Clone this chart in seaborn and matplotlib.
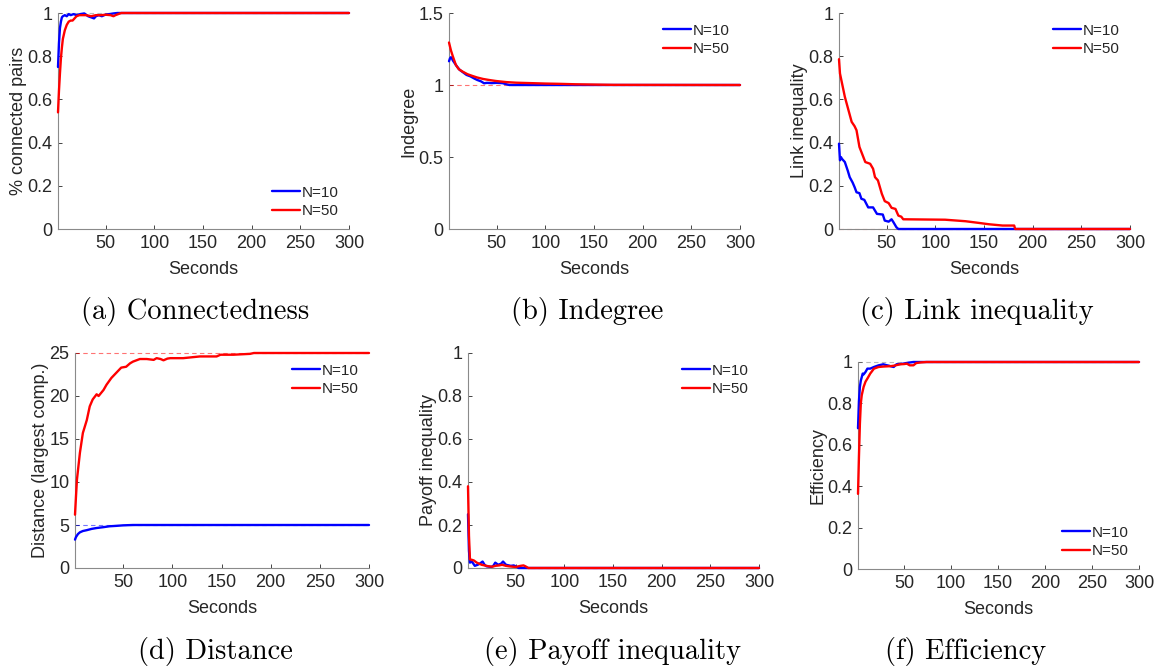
import numpy as np
import pandas as pd
import matplotlib
matplotlib.use("Agg")
import matplotlib.pyplot as plt
from matplotlib.ticker import FuncFormatter
import seaborn as sns

# ---------------- data ----------------
labels = ["N=10", "N=50"]

a_t10 = [1, 2, 3, 4, 5, 6, 8, 10, 12, 14, 17, 20, 24, 28, 32, 35, 38, 40, 43, 46, 50, 54, 58, 62, 66, 300]
a_v10 = [0.75, 0.86, 0.93, 0.96, 0.98, 0.985, 0.99, 0.985, 0.995, 0.99, 0.995, 0.99, 0.995, 0.998, 0.985, 0.98, 0.975, 0.985, 0.99, 0.985, 0.993, 0.995, 0.998, 1.0, 1.0, 1.0]
a_t50 = [1, 2, 3, 4, 5, 6, 7, 8, 10, 12, 14, 16, 18, 20, 23, 26, 30, 35, 40, 45, 50, 55, 58, 60, 63, 66, 300]
a_v50 = [0.54, 0.64, 0.72, 0.79, 0.84, 0.88, 0.90, 0.92, 0.945, 0.96, 0.965, 0.965, 0.975, 0.985, 0.99, 0.99, 0.99, 0.985, 0.99, 0.99, 0.992, 0.99, 0.985, 0.99, 0.995, 1.0, 1.0]

b_t10 = [1, 2, 3, 4, 5, 7, 9, 12, 15, 19, 23, 27, 30, 34, 37, 40, 45, 50, 56, 60, 63, 300]
b_v10 = [1.165, 1.185, 1.193, 1.185, 1.17, 1.15, 1.13, 1.105, 1.09, 1.07, 1.06, 1.045, 1.035, 1.025, 1.012, 1.015, 1.013, 1.015, 1.013, 1.005, 1.0, 1.0]
b_t50 = [1, 3, 5, 8, 11, 15, 20, 25, 30, 36, 42, 49, 60, 70, 85, 100, 115, 131, 150, 170, 300]
b_v50 = [1.295, 1.24, 1.198, 1.14, 1.11, 1.093, 1.075, 1.063, 1.052, 1.042, 1.035, 1.028, 1.02, 1.016, 1.013, 1.01, 1.008, 1.005, 1.003, 1.001, 1.0]

c_t10 = [1, 2, 3, 4, 7, 10, 12, 15, 17, 19, 22, 24, 27, 31, 36, 40, 46, 48, 52, 55, 57, 60, 62, 300]
c_v10 = [0.395, 0.318, 0.333, 0.325, 0.31, 0.27, 0.24, 0.215, 0.194, 0.17, 0.166, 0.14, 0.135, 0.10, 0.10, 0.07, 0.067, 0.039, 0.034, 0.045, 0.031, 0.008, 0.0, 0.0]
c_t50 = [1, 2, 7, 14, 17, 19, 22, 28, 33, 36, 38, 41, 45, 48, 52, 55, 59, 62, 65, 67, 110, 131, 145, 155, 169, 181, 182, 300]
c_v50 = [0.786, 0.72, 0.612, 0.496, 0.476, 0.457, 0.38, 0.31, 0.302, 0.279, 0.24, 0.225, 0.163, 0.129, 0.12, 0.098, 0.093, 0.062, 0.057, 0.045, 0.043, 0.036, 0.028, 0.022, 0.016, 0.016, 0.0, 0.0]

d_t10 = [1, 2, 4, 6, 9, 13, 18, 23, 30, 36, 43, 50, 60, 300]
d_v10 = [3.3, 3.6, 3.95, 4.15, 4.3, 4.4, 4.55, 4.65, 4.75, 4.85, 4.9, 4.96, 5.0, 5.0]
d_t50 = [1, 2, 3, 6, 9, 13, 16, 19, 23, 25, 30, 33, 38, 43, 48, 53, 57, 60, 67, 74, 81, 84, 88, 91, 95, 98, 111, 128, 145, 149, 162, 179, 183, 300]
d_v50 = [6.2, 8.3, 10.3, 13.4, 15.7, 17.2, 18.8, 19.6, 20.2, 20.0, 20.7, 21.3, 22.1, 22.7, 23.3, 23.4, 23.8, 24.0, 24.3, 24.3, 24.2, 24.4, 24.3, 24.15, 24.35, 24.4, 24.4, 24.6, 24.6, 24.8, 24.8, 24.9, 25.0, 25.0]

e_t10 = [1, 2, 3, 5, 8, 11, 13, 16, 18, 20, 25, 27, 29, 32, 35, 37, 40, 43, 45, 48, 50, 53, 300]
e_v10 = [0.25, 0.08, 0.025, 0.03, 0.01, 0.015, 0.02, 0.03, 0.015, 0.008, 0.005, 0.01, 0.025, 0.015, 0.02, 0.03, 0.015, 0.012, 0.01, 0.012, 0.008, 0.0, 0.0]
e_t50 = [1, 2, 3, 5, 7, 10, 15, 18, 22, 26, 29, 33, 36, 40, 43, 47, 50, 55, 58, 60, 63, 300]
e_v50 = [0.38, 0.15, 0.04, 0.038, 0.035, 0.025, 0.015, 0.012, 0.008, 0.006, 0.01, 0.012, 0.015, 0.01, 0.008, 0.006, 0.005, 0.01, 0.012, 0.008, 0.0, 0.0]

f_t10 = [1, 2, 3, 4, 6, 7, 9, 11, 14, 18, 23, 28, 31, 34, 37, 39, 42, 45, 49, 55, 60, 300]
f_v10 = [0.68, 0.81, 0.88, 0.91, 0.944, 0.94, 0.952, 0.968, 0.968, 0.976, 0.984, 0.989, 0.985, 0.982, 0.978, 0.976, 0.989, 0.99, 0.992, 0.997, 1.0, 1.0]
f_t50 = [1, 2, 3, 4, 5, 7, 9, 11, 14, 18, 23, 28, 32, 36, 39, 43, 46, 50, 53, 56, 60, 63, 68, 74, 300]
f_v50 = [0.363, 0.54, 0.70, 0.80, 0.84, 0.88, 0.905, 0.92, 0.944, 0.968, 0.976, 0.978, 0.979, 0.98, 0.982, 0.986, 0.989, 0.99, 0.992, 0.984, 0.984, 0.995, 0.998, 1.0, 1.0]

x_ticks = [50, 100, 150, 200, 250, 300]
ylabels = ["% connected pairs", "Indegree", "Link inequality",
           "Distance (largest comp.)", "Payoff inequality", "Efficiency"]
captions = ["(a) Connectedness", "(b) Indegree", "(c) Link inequality",
            "(d) Distance", "(e) Payoff inequality", "(f) Efficiency"]

# ---------------- style ----------------
sns.set_theme(style="ticks")
plt.rcParams["font.family"] = ["Liberation Sans", "DejaVu Sans"]

W, H = 1158, 671
fig = plt.figure(figsize=(W / 100, H / 100), dpi=100)

def px_axes(l, t, r, b):
    return fig.add_axes([l / W, 1 - b / H, (r - l) / W, (b - t) / H])

boxes = [(58, 13, 349, 229), (449, 13, 740, 229), (839, 13, 1130, 229),
         (75, 353, 369, 568), (468, 353, 759, 568), (858, 362, 1139, 569)]
series = [(a_t10, a_v10, a_t50, a_v50), (b_t10, b_v10, b_t50, b_v50),
          (c_t10, c_v10, c_t50, c_v50), (d_t10, d_v10, d_t50, d_v50),
          (e_t10, e_v10, e_t50, e_v50), (f_t10, f_v10, f_t50, f_v50)]
ylims = [(0, 1), (0, 1.5), (0, 1), (0, 25), (0, 1), (0, 1)]
yticks = [np.arange(0, 1.01, 0.2), [0, 0.5, 1, 1.5], np.arange(0, 1.01, 0.2),
          [0, 5, 10, 15, 20, 25], np.arange(0, 1.01, 0.2), np.arange(0, 1.01, 0.2)]
refs = [[(1, "gray")], [(1, "red")], [(0, "red")], [(25, "red"), (5, "blue")],
        [(0, "red")], [(1, "gray")]]
leg_loc = ["lower right", "upper right", "upper right", "upper right",
           "upper right", "lower right"]
cap_pos = [(195, 311), (587, 311), (977, 311), (215, 651), (612, 651), (966, 651)]

palette = {"N=10": (0, 0, 1), "N=50": (1, 0, 0)}
axcol = "#262626"

for i in range(6):
    ax = px_axes(*boxes[i])
    t10, v10, t50, v50 = series[i]
    df = pd.concat([
        pd.DataFrame({"t": t10, "v": v10, "N": labels[0]}),
        pd.DataFrame({"t": t50, "v": v50, "N": labels[1]}),
    ], ignore_index=True)
    for yv, c in refs[i]:
        ax.axhline(yv, color=c, lw=0.8, ls=(0, (4, 3)), alpha=0.55, zorder=1)
    sns.lineplot(data=df, x="t", y="v", hue="N", palette=palette, ax=ax,
                 estimator=None, sort=False, lw=1.7, zorder=3)
    for ln in ax.lines:
        ln.set_clip_on(False)
    ax.set_xlim(1, 300)
    ax.set_ylim(*ylims[i])
    ax.set_xticks(x_ticks)
    ax.set_yticks(yticks[i])
    ax.yaxis.set_major_formatter(FuncFormatter(lambda v, p: "%g" % round(v, 3)))
    ax.tick_params(direction="in", length=3, width=0.6, labelsize=13,
                   colors=axcol, pad=4)
    for s in ["top", "right"]:
        ax.spines[s].set_visible(False)
    for s in ["left", "bottom"]:
        ax.spines[s].set_color("#8a8a8a")
        ax.spines[s].set_linewidth(0.8)
    ax.set_xlabel("Seconds", fontsize=13, color=axcol, labelpad=7)
    ax.set_ylabel(ylabels[i], fontsize=13, color=axcol, labelpad=0.5)
    ax.set_facecolor("white")
    leg = ax.legend(loc=leg_loc[i], frameon=False, fontsize=11,
                    handlelength=1.8, handletextpad=0.1, labelspacing=0.3,
                    borderaxespad=0.3)
    for txt in leg.get_texts():
        txt.set_color(axcol)
    for h in leg.get_lines():
        h.set_linewidth(1.7)
    fig.text(cap_pos[i][0] / W, 1 - cap_pos[i][1] / H, captions[i],
             family="cmr10", fontsize=20.5, ha="center", va="center", color="black")

fig.savefig("out.png", dpi=100, facecolor="white")
